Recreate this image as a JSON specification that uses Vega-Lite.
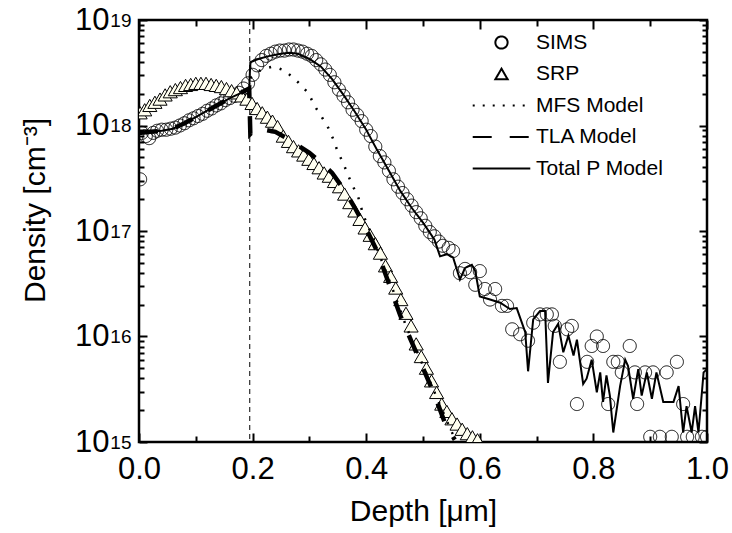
{
"$schema": "https://vega.github.io/schema/vega-lite/v6.json",
"width": 568, "height": 422, "autosize": "none",
"padding": {"left": 139, "top": 20, "right": 25, "bottom": 91},
"background": "white",
"config": {
  "font": "Liberation Sans",
  "view": {"stroke": "black", "strokeWidth": 2.5},
  "axis": {"domain": false, "grid": false, "tickColor": "black", "tickWidth": 2, "labelColor": "black", "titleColor": "black", "labelFont": "Liberation Sans", "titleFont": "Liberation Sans", "labelFontSize": 31, "titleFontSize": 30, "titleFontWeight": "normal", "labelFlush": false, "labelOverlap": false, "zindex": 1},
  "legend": {"orient": "none", "legendX": 352, "legendY": 12, "labelFontSize": 21, "labelFont": "Liberation Sans", "labelColor": "black", "symbolSize": 150, "rowPadding": 9.5, "labelOffset": 24, "padding": 0, "symbolStrokeColor": "black", "symbolStrokeWidth": 2, "symbolOpacity": 1, "labelLimit": 0}
},
"datasets": {
  "rule": [{"d": 0.195}],
  "main": [
{"series":"SIMS","d":0.002,"v":3.09e17},{"series":"SIMS","d":0.005,"v":8.51e17},{"series":"SIMS","d":0.012,"v":7.94e17},{"series":"SIMS","d":0.018,"v":7.59e17},{"series":"SIMS","d":0.025,"v":8.51e17},{"series":"SIMS","d":0.032,"v":8.91e17},{"series":"SIMS","d":0.040,"v":9.12e17},{"series":"SIMS","d":0.048,"v":9.12e17},{"series":"SIMS","d":0.056,"v":9.33e17},{"series":"SIMS","d":0.064,"v":9.55e17},{"series":"SIMS","d":0.072,"v":1.00e18},{"series":"SIMS","d":0.080,"v":1.05e18},{"series":"SIMS","d":0.088,"v":1.12e18},{"series":"SIMS","d":0.096,"v":1.17e18},{"series":"SIMS","d":0.104,"v":1.23e18},{"series":"SIMS","d":0.112,"v":1.29e18},{"series":"SIMS","d":0.120,"v":1.38e18},{"series":"SIMS","d":0.128,"v":1.45e18},{"series":"SIMS","d":0.136,"v":1.55e18},{"series":"SIMS","d":0.144,"v":1.62e18},{"series":"SIMS","d":0.152,"v":1.74e18},{"series":"SIMS","d":0.160,"v":1.82e18},{"series":"SIMS","d":0.168,"v":1.91e18},{"series":"SIMS","d":0.176,"v":2.04e18},{"series":"SIMS","d":0.184,"v":2.24e18},{"series":"SIMS","d":0.192,"v":2.51e18},{"series":"SIMS","d":0.200,"v":3.02e18},{"series":"SIMS","d":0.208,"v":3.72e18},{"series":"SIMS","d":0.216,"v":4.17e18},{"series":"SIMS","d":0.224,"v":4.57e18},{"series":"SIMS","d":0.232,"v":4.79e18},{"series":"SIMS","d":0.240,"v":5.01e18},{"series":"SIMS","d":0.248,"v":5.13e18},{"series":"SIMS","d":0.256,"v":5.13e18},{"series":"SIMS","d":0.264,"v":5.25e18},{"series":"SIMS","d":0.272,"v":5.25e18},{"series":"SIMS","d":0.280,"v":5.13e18},{"series":"SIMS","d":0.288,"v":5.01e18},{"series":"SIMS","d":0.296,"v":4.79e18},{"series":"SIMS","d":0.304,"v":4.57e18},{"series":"SIMS","d":0.312,"v":4.17e18},{"series":"SIMS","d":0.320,"v":3.80e18},{"series":"SIMS","d":0.328,"v":3.39e18},{"series":"SIMS","d":0.336,"v":3.02e18},{"series":"SIMS","d":0.344,"v":2.57e18},{"series":"SIMS","d":0.352,"v":2.19e18},{"series":"SIMS","d":0.360,"v":1.91e18},{"series":"SIMS","d":0.368,"v":1.66e18},{"series":"SIMS","d":0.376,"v":1.41e18},{"series":"SIMS","d":0.384,"v":1.26e18},{"series":"SIMS","d":0.392,"v":1.10e18},{"series":"SIMS","d":0.400,"v":9.12e17},{"series":"SIMS","d":0.408,"v":7.94e17},{"series":"SIMS","d":0.416,"v":6.31e17},{"series":"SIMS","d":0.424,"v":5.13e17},{"series":"SIMS","d":0.432,"v":4.47e17},{"series":"SIMS","d":0.440,"v":3.72e17},{"series":"SIMS","d":0.448,"v":3.09e17},{"series":"SIMS","d":0.456,"v":2.63e17},{"series":"SIMS","d":0.464,"v":2.29e17},{"series":"SIMS","d":0.472,"v":2.00e17},{"series":"SIMS","d":0.480,"v":1.74e17},{"series":"SIMS","d":0.488,"v":1.51e17},{"series":"SIMS","d":0.496,"v":1.32e17},{"series":"SIMS","d":0.504,"v":1.12e17},{"series":"SIMS","d":0.512,"v":9.77e16},{"series":"SIMS","d":0.520,"v":8.91e16},{"series":"SIMS","d":0.528,"v":7.94e16},{"series":"SIMS","d":0.535,"v":7.24e16},{"series":"SIMS","d":0.545,"v":6.92e16},{"series":"SIMS","d":0.553,"v":6.46e16},{"series":"SIMS","d":0.565,"v":3.98e16},{"series":"SIMS","d":0.574,"v":4.37e16},{"series":"SIMS","d":0.583,"v":4.07e16},{"series":"SIMS","d":0.592,"v":3.09e16},{"series":"SIMS","d":0.600,"v":4.17e16},{"series":"SIMS","d":0.609,"v":2.82e16},{"series":"SIMS","d":0.618,"v":2.24e16},{"series":"SIMS","d":0.627,"v":2.82e16},{"series":"SIMS","d":0.639,"v":1.95e16},{"series":"SIMS","d":0.648,"v":1.95e16},{"series":"SIMS","d":0.657,"v":1.17e16},{"series":"SIMS","d":0.671,"v":1.05e16},{"series":"SIMS","d":0.685,"v":9.12e15},{"series":"SIMS","d":0.694,"v":1.35e16},{"series":"SIMS","d":0.706,"v":1.62e16},{"series":"SIMS","d":0.718,"v":1.62e16},{"series":"SIMS","d":0.727,"v":1.62e16},{"series":"SIMS","d":0.732,"v":1.26e16},{"series":"SIMS","d":0.741,"v":5.75e15},{"series":"SIMS","d":0.754,"v":1.17e16},{"series":"SIMS","d":0.762,"v":1.26e16},{"series":"SIMS","d":0.771,"v":2.29e15},{"series":"SIMS","d":0.789,"v":5.75e15},{"series":"SIMS","d":0.797,"v":8.13e15},{"series":"SIMS","d":0.806,"v":1.00e16},{"series":"SIMS","d":0.817,"v":8.13e15},{"series":"SIMS","d":0.826,"v":2.29e15},{"series":"SIMS","d":0.835,"v":5.75e15},{"series":"SIMS","d":0.843,"v":5.75e15},{"series":"SIMS","d":0.850,"v":4.57e15},{"series":"SIMS","d":0.864,"v":8.13e15},{"series":"SIMS","d":0.873,"v":4.57e15},{"series":"SIMS","d":0.877,"v":2.29e15},{"series":"SIMS","d":0.891,"v":4.57e15},{"series":"SIMS","d":0.905,"v":4.57e15},{"series":"SIMS","d":0.929,"v":4.57e15},{"series":"SIMS","d":0.947,"v":5.75e15},{"series":"SIMS","d":0.958,"v":2.29e15},{"series":"SIMS","d":0.900,"v":1.12e15},{"series":"SIMS","d":0.917,"v":1.12e15},{"series":"SIMS","d":0.938,"v":1.12e15},{"series":"SIMS","d":0.965,"v":1.12e15},{"series":"SIMS","d":0.975,"v":1.12e15},{"series":"SIMS","d":0.991,"v":1.12e15},{"series":"SIMS","d":1.000,"v":1.12e15},
{"series":"SRP","d":0.002,"v":1.32e18},{"series":"SRP","d":0.010,"v":1.41e18},{"series":"SRP","d":0.019,"v":1.55e18},{"series":"SRP","d":0.028,"v":1.66e18},{"series":"SRP","d":0.037,"v":1.78e18},{"series":"SRP","d":0.046,"v":1.95e18},{"series":"SRP","d":0.055,"v":2.09e18},{"series":"SRP","d":0.064,"v":2.19e18},{"series":"SRP","d":0.073,"v":2.29e18},{"series":"SRP","d":0.082,"v":2.40e18},{"series":"SRP","d":0.091,"v":2.45e18},{"series":"SRP","d":0.100,"v":2.51e18},{"series":"SRP","d":0.109,"v":2.51e18},{"series":"SRP","d":0.118,"v":2.51e18},{"series":"SRP","d":0.127,"v":2.45e18},{"series":"SRP","d":0.136,"v":2.40e18},{"series":"SRP","d":0.145,"v":2.34e18},{"series":"SRP","d":0.154,"v":2.24e18},{"series":"SRP","d":0.163,"v":2.14e18},{"series":"SRP","d":0.172,"v":2.04e18},{"series":"SRP","d":0.181,"v":1.91e18},{"series":"SRP","d":0.190,"v":1.78e18},{"series":"SRP","d":0.199,"v":1.62e18},{"series":"SRP","d":0.208,"v":1.45e18},{"series":"SRP","d":0.217,"v":1.32e18},{"series":"SRP","d":0.226,"v":1.20e18},{"series":"SRP","d":0.235,"v":1.10e18},{"series":"SRP","d":0.244,"v":9.77e17},{"series":"SRP","d":0.254,"v":7.94e17},{"series":"SRP","d":0.263,"v":7.08e17},{"series":"SRP","d":0.272,"v":6.31e17},{"series":"SRP","d":0.281,"v":5.75e17},{"series":"SRP","d":0.290,"v":5.25e17},{"series":"SRP","d":0.299,"v":4.79e17},{"series":"SRP","d":0.308,"v":4.37e17},{"series":"SRP","d":0.317,"v":3.98e17},{"series":"SRP","d":0.326,"v":3.55e17},{"series":"SRP","d":0.335,"v":3.31e17},{"series":"SRP","d":0.344,"v":2.95e17},{"series":"SRP","d":0.353,"v":2.63e17},{"series":"SRP","d":0.362,"v":2.24e17},{"series":"SRP","d":0.371,"v":1.86e17},{"series":"SRP","d":0.380,"v":1.55e17},{"series":"SRP","d":0.389,"v":1.29e17},{"series":"SRP","d":0.398,"v":1.07e17},{"series":"SRP","d":0.407,"v":9.12e16},{"series":"SRP","d":0.416,"v":7.59e16},{"series":"SRP","d":0.425,"v":6.17e16},{"series":"SRP","d":0.434,"v":4.68e16},{"series":"SRP","d":0.443,"v":3.72e16},{"series":"SRP","d":0.452,"v":2.88e16},{"series":"SRP","d":0.461,"v":2.24e16},{"series":"SRP","d":0.470,"v":1.66e16},{"series":"SRP","d":0.479,"v":1.26e16},{"series":"SRP","d":0.488,"v":8.51e15},{"series":"SRP","d":0.497,"v":6.46e15},{"series":"SRP","d":0.506,"v":5.01e15},{"series":"SRP","d":0.515,"v":3.80e15},{"series":"SRP","d":0.524,"v":2.95e15},{"series":"SRP","d":0.533,"v":2.29e15},{"series":"SRP","d":0.542,"v":1.95e15},{"series":"SRP","d":0.551,"v":1.66e15},{"series":"SRP","d":0.560,"v":1.48e15},{"series":"SRP","d":0.569,"v":1.32e15},{"series":"SRP","d":0.578,"v":1.20e15},{"series":"SRP","d":0.587,"v":1.12e15},{"series":"SRP","d":0.596,"v":1.05e15},
{"series":"MFS Model","d":0.196,"v":2.82e18},{"series":"MFS Model","d":0.215,"v":3.39e18},{"series":"MFS Model","d":0.236,"v":3.63e18},{"series":"MFS Model","d":0.257,"v":3.31e18},{"series":"MFS Model","d":0.280,"v":2.57e18},{"series":"MFS Model","d":0.298,"v":2.04e18},{"series":"MFS Model","d":0.310,"v":1.51e18},{"series":"MFS Model","d":0.322,"v":1.20e18},{"series":"MFS Model","d":0.333,"v":9.55e17},{"series":"MFS Model","d":0.342,"v":7.41e17},{"series":"MFS Model","d":0.350,"v":5.62e17},{"series":"MFS Model","d":0.359,"v":4.47e17},{"series":"MFS Model","d":0.368,"v":3.39e17},{"series":"MFS Model","d":0.377,"v":2.63e17},{"series":"MFS Model","d":0.386,"v":2.09e17},{"series":"MFS Model","d":0.395,"v":1.41e17},{"series":"MFS Model","d":0.410,"v":9.12e16},{"series":"MFS Model","d":0.430,"v":4.79e16},{"series":"MFS Model","d":0.450,"v":2.51e16},{"series":"MFS Model","d":0.470,"v":1.26e16},{"series":"MFS Model","d":0.490,"v":7.08e15},{"series":"MFS Model","d":0.510,"v":3.98e15},{"series":"MFS Model","d":0.530,"v":2.24e15},{"series":"MFS Model","d":0.550,"v":1.26e15},{"series":"MFS Model","d":0.560,"v":1.00e15},
{"series":"TLA Model","d":0.000,"v":8.51e17},{"series":"TLA Model","d":0.020,"v":8.71e17},{"series":"TLA Model","d":0.040,"v":8.91e17},{"series":"TLA Model","d":0.060,"v":9.33e17},{"series":"TLA Model","d":0.080,"v":1.05e18},{"series":"TLA Model","d":0.100,"v":1.20e18},{"series":"TLA Model","d":0.120,"v":1.38e18},{"series":"TLA Model","d":0.140,"v":1.58e18},{"series":"TLA Model","d":0.160,"v":1.82e18},{"series":"TLA Model","d":0.180,"v":2.04e18},{"series":"TLA Model","d":0.194,"v":2.24e18},{"series":"TLA Model","d":0.196,"v":8.32e17},{"series":"TLA Model","d":0.205,"v":9.33e17},{"series":"TLA Model","d":0.220,"v":9.12e17},{"series":"TLA Model","d":0.240,"v":8.71e17},{"series":"TLA Model","d":0.260,"v":7.59e17},{"series":"TLA Model","d":0.280,"v":6.46e17},{"series":"TLA Model","d":0.300,"v":5.50e17},{"series":"TLA Model","d":0.320,"v":4.47e17},{"series":"TLA Model","d":0.340,"v":3.55e17},{"series":"TLA Model","d":0.360,"v":2.51e17},{"series":"TLA Model","d":0.380,"v":1.66e17},{"series":"TLA Model","d":0.400,"v":1.05e17},{"series":"TLA Model","d":0.420,"v":6.31e16},{"series":"TLA Model","d":0.440,"v":3.16e16},{"series":"TLA Model","d":0.460,"v":1.58e16},{"series":"TLA Model","d":0.480,"v":8.91e15},{"series":"TLA Model","d":0.500,"v":5.01e15},{"series":"TLA Model","d":0.520,"v":2.82e15},{"series":"TLA Model","d":0.540,"v":1.45e15},{"series":"TLA Model","d":0.556,"v":1.05e15},
{"series":"Total P Model","d":0.000,"v":8.51e17},{"series":"Total P Model","d":0.020,"v":8.71e17},{"series":"Total P Model","d":0.040,"v":8.91e17},{"series":"Total P Model","d":0.060,"v":9.33e17},{"series":"Total P Model","d":0.080,"v":1.05e18},{"series":"Total P Model","d":0.100,"v":1.20e18},{"series":"Total P Model","d":0.120,"v":1.38e18},{"series":"Total P Model","d":0.140,"v":1.58e18},{"series":"Total P Model","d":0.160,"v":1.82e18},{"series":"Total P Model","d":0.180,"v":2.04e18},{"series":"Total P Model","d":0.194,"v":2.24e18},{"series":"Total P Model","d":0.196,"v":3.98e18},{"series":"Total P Model","d":0.210,"v":4.27e18},{"series":"Total P Model","d":0.230,"v":4.57e18},{"series":"Total P Model","d":0.250,"v":4.79e18},{"series":"Total P Model","d":0.265,"v":4.90e18},{"series":"Total P Model","d":0.280,"v":4.79e18},{"series":"Total P Model","d":0.300,"v":4.27e18},{"series":"Total P Model","d":0.320,"v":3.63e18},{"series":"Total P Model","d":0.340,"v":2.75e18},{"series":"Total P Model","d":0.360,"v":1.95e18},{"series":"Total P Model","d":0.380,"v":1.35e18},{"series":"Total P Model","d":0.400,"v":9.12e17},{"series":"Total P Model","d":0.420,"v":5.75e17},{"series":"Total P Model","d":0.440,"v":3.72e17},{"series":"Total P Model","d":0.460,"v":2.40e17},{"series":"Total P Model","d":0.480,"v":1.66e17},{"series":"Total P Model","d":0.500,"v":1.20e17},{"series":"Total P Model","d":0.520,"v":8.32e16},{"series":"Total P Model","d":0.530,"v":5.75e16},{"series":"Total P Model","d":0.542,"v":6.03e16},{"series":"Total P Model","d":0.553,"v":5.62e16},{"series":"Total P Model","d":0.565,"v":3.47e16},{"series":"Total P Model","d":0.574,"v":4.47e16},{"series":"Total P Model","d":0.586,"v":4.79e16},{"series":"Total P Model","d":0.592,"v":4.17e16},{"series":"Total P Model","d":0.600,"v":2.40e16},{"series":"Total P Model","d":0.618,"v":2.24e16},{"series":"Total P Model","d":0.636,"v":2.09e16},{"series":"Total P Model","d":0.653,"v":1.82e16},{"series":"Total P Model","d":0.665,"v":1.86e16},{"series":"Total P Model","d":0.680,"v":1.10e16},{"series":"Total P Model","d":0.685,"v":4.68e15},{"series":"Total P Model","d":0.694,"v":1.45e16},{"series":"Total P Model","d":0.706,"v":1.74e16},{"series":"Total P Model","d":0.715,"v":1.74e16},{"series":"Total P Model","d":0.720,"v":3.63e15},{"series":"Total P Model","d":0.729,"v":1.10e16},{"series":"Total P Model","d":0.738,"v":1.32e16},{"series":"Total P Model","d":0.747,"v":7.08e15},{"series":"Total P Model","d":0.756,"v":1.02e16},{"series":"Total P Model","d":0.765,"v":6.61e15},{"series":"Total P Model","d":0.771,"v":9.33e15},{"series":"Total P Model","d":0.782,"v":3.55e15},{"series":"Total P Model","d":0.788,"v":3.98e15},{"series":"Total P Model","d":0.797,"v":6.03e15},{"series":"Total P Model","d":0.806,"v":2.95e15},{"series":"Total P Model","d":0.812,"v":4.57e15},{"series":"Total P Model","d":0.817,"v":2.40e15},{"series":"Total P Model","d":0.823,"v":4.27e15},{"series":"Total P Model","d":0.829,"v":2.75e15},{"series":"Total P Model","d":0.835,"v":1.23e15},{"series":"Total P Model","d":0.847,"v":3.39e15},{"series":"Total P Model","d":0.856,"v":6.03e15},{"series":"Total P Model","d":0.861,"v":5.25e15},{"series":"Total P Model","d":0.870,"v":2.57e15},{"series":"Total P Model","d":0.879,"v":4.90e15},{"series":"Total P Model","d":0.885,"v":2.75e15},{"series":"Total P Model","d":0.894,"v":4.57e15},{"series":"Total P Model","d":0.903,"v":2.57e15},{"series":"Total P Model","d":0.911,"v":4.57e15},{"series":"Total P Model","d":0.923,"v":2.40e15},{"series":"Total P Model","d":0.941,"v":2.40e15},{"series":"Total P Model","d":0.950,"v":3.39e15},{"series":"Total P Model","d":0.958,"v":1.23e15},{"series":"Total P Model","d":0.964,"v":2.19e15},{"series":"Total P Model","d":0.973,"v":1.23e15},{"series":"Total P Model","d":0.979,"v":2.19e15},{"series":"Total P Model","d":0.985,"v":1.23e15},{"series":"Total P Model","d":0.994,"v":4.57e15},{"series":"Total P Model","d":1.000,"v":4.90e15}
  ]
},
"resolve": {"axis": {"x": "independent", "y": "independent"}},
"layer": [
  {
    "data": {"name": "rule"},
    "mark": {"type": "rule", "strokeDash": [5, 4], "strokeWidth": 1, "color": "black"},
    "encoding": {
      "x": {"field": "d", "type": "quantitative", "scale": {"domain": [0, 1], "nice": false, "zero": false},
        "axis": {"orient": "bottom", "values": [0, 0.2, 0.4, 0.6, 0.8, 1], "format": ".1f", "tickSize": -9, "labelPadding": 21, "title": "Depth [μm]", "titleY": 78, "titleBaseline": "alphabetic"}}
    }
  },
  {
    "data": {"name": "main"},
    "transform": [{"filter": "datum.series === 'SIMS'"}],
    "mark": {"type": "point", "size": 170, "stroke": "black", "strokeWidth": 1, "fill": "transparent", "opacity": 1, "clip": true},
    "encoding": {
      "x": {"field": "d", "type": "quantitative", "axis": {"orient": "bottom", "values": [0.1, 0.3, 0.5, 0.7, 0.9], "labels": false, "tickSize": -6, "title": null}},
      "y": {"field": "v", "type": "quantitative", "scale": {"type": "log", "domain": [1e15, 1e19], "nice": false},
        "axis": {"orient": "left", "values": [1e15, 1e16, 1e17, 1e18, 1e19], "labelExpr": "'10'", "tickSize": -8, "labelPadding": 38, "labelAlign": "right", "labelBaseline": "middle", "labelDy": 3, "title": "Density [cm⁻³]", "titleX": -104, "titleY": 190, "titleBaseline": "middle", "titleAngle": -90, "titleAlign": "center"}},
      "shape": {"field": "series", "type": "nominal",
        "scale": {"domain": ["SIMS", "SRP", "MFS Model", "TLA Model", "Total P Model"], "range": ["circle", "triangle-up", "M-4.7,0H4.7", "M-4.7,0H4.7", "M-4.7,0H4.7"]},
        "legend": {"title": null}},
      "strokeDash": {"field": "series", "type": "nominal",
        "scale": {"domain": ["SIMS", "SRP", "MFS Model", "TLA Model", "Total P Model"], "range": [[1, 0], [1, 0], [2, 8], [19, 18], [1, 0]]},
        "legend": {"title": null}}
    }
  },
  {
    "data": {"name": "main"},
    "transform": [{"filter": "datum.series === 'SRP'"}],
    "mark": {"type": "point", "shape": "triangle-up", "size": 200, "stroke": "black", "strokeWidth": 1, "fill": "#fffff0", "filled": true, "opacity": 1, "clip": true},
    "encoding": {
      "x": {"field": "d", "type": "quantitative", "axis": {"orient": "top", "values": [0, 0.2, 0.4, 0.6, 0.8, 1], "labels": false, "tickSize": -9, "title": null}},
      "y": {"field": "v", "type": "quantitative", "axis": {"orient": "left", "values": [1e15, 1e16, 1e17, 1e18, 1e19], "ticks": false, "labelExpr": "'' + round(log(datum.value) / LN10)", "labelFontSize": 19, "labelPadding": 8, "labelAlign": "right", "labelBaseline": "middle", "labelDy": -10.5, "title": null}}
    }
  },
  {
    "data": {"name": "main"},
    "transform": [{"filter": "datum.series === 'MFS Model'"}],
    "mark": {"type": "line", "stroke": "black", "strokeWidth": 2.5, "strokeDash": [2, 9], "clip": true},
    "encoding": {
      "x": {"field": "d", "type": "quantitative", "axis": {"orient": "top", "values": [0.1, 0.3, 0.5, 0.7, 0.9], "labels": false, "tickSize": -6, "title": null}},
      "y": {"field": "v", "type": "quantitative", "axis": {"orient": "left", "values": [2e15,3e15,4e15,5e15,6e15,7e15,8e15,9e15,2e16,3e16,4e16,5e16,6e16,7e16,8e16,9e16,2e17,3e17,4e17,5e17,6e17,7e17,8e17,9e17,2e18,3e18,4e18,5e18,6e18,7e18,8e18,9e18], "labels": false, "tickSize": -5, "title": null}}
    }
  },
  {
    "data": {"name": "main"},
    "transform": [{"filter": "datum.series === 'TLA Model'"}],
    "mark": {"type": "line", "stroke": "black", "strokeWidth": 4.5, "strokeDash": [19, 18], "clip": true},
    "encoding": {
      "x": {"field": "d", "type": "quantitative", "axis": null},
      "y": {"field": "v", "type": "quantitative", "axis": {"orient": "right", "values": [1e15, 1e16, 1e17, 1e18, 1e19], "labels": false, "tickSize": -8, "title": null}}
    }
  },
  {
    "data": {"name": "main"},
    "transform": [{"filter": "datum.series === 'Total P Model'"}],
    "mark": {"type": "line", "stroke": "black", "strokeWidth": 2, "clip": true},
    "encoding": {
      "x": {"field": "d", "type": "quantitative", "axis": null},
      "y": {"field": "v", "type": "quantitative", "axis": {"orient": "right", "values": [2e15,3e15,4e15,5e15,6e15,7e15,8e15,9e15,2e16,3e16,4e16,5e16,6e16,7e16,8e16,9e16,2e17,3e17,4e17,5e17,6e17,7e17,8e17,9e17,2e18,3e18,4e18,5e18,6e18,7e18,8e18,9e18], "labels": false, "tickSize": -5, "title": null}}
    }
  }
]
}
